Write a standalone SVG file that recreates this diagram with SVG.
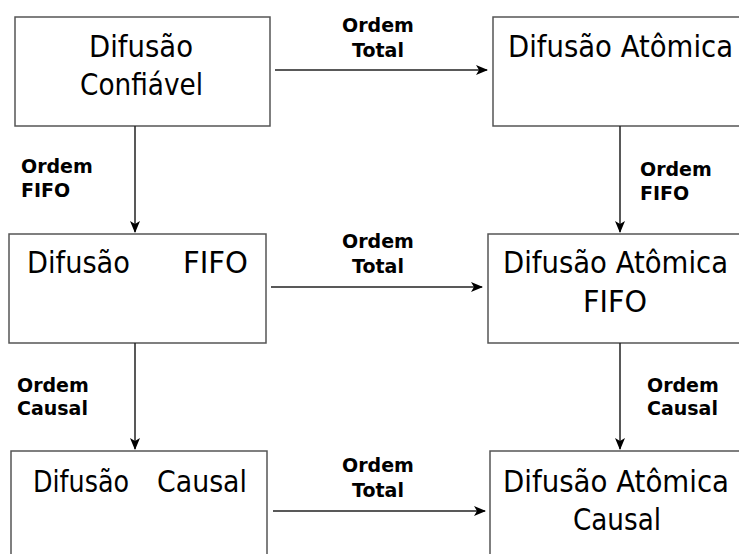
<svg xmlns="http://www.w3.org/2000/svg" width="739" height="554" viewBox="0 0 739 554">
<style>
.box{fill:#fff;stroke:#555;stroke-width:1.5}
.t{font-family:"DejaVu Sans","Verdana",sans-serif;font-size:30px;fill:#000}
.l{font-family:"DejaVu Sans","Verdana",sans-serif;font-size:19px;font-weight:bold;fill:#000}
.c{text-anchor:middle}
.e{stroke:#222;stroke-width:1.5;fill:none;marker-end:url(#ah)}
</style>
<defs>
<marker id="ah" viewBox="0 0 12 10" refX="11" refY="5" markerWidth="12" markerHeight="10" markerUnits="userSpaceOnUse" orient="auto">
<path d="M0,0 L12,5 L0,10 L3,5 Z" fill="#000"/>
</marker>
</defs>
<rect width="739" height="554" fill="#fff"/>
<g id="n1">
<rect class="box" x="15" y="17" width="255" height="109"/>
<text class="t" x="89" y="57" textLength="104" lengthAdjust="spacingAndGlyphs">Difusão</text>
<text class="t" x="80" y="95" textLength="123" lengthAdjust="spacingAndGlyphs">Confiável</text>
</g>
<g id="n2">
<rect class="box" x="493" y="17" width="260" height="109"/>
<text class="t" x="508" y="57" textLength="225" lengthAdjust="spacingAndGlyphs">Difusão Atômica</text>
</g>
<g id="n3">
<rect class="box" x="9" y="234" width="257" height="109"/>
<text class="t" x="27" y="273" textLength="103" lengthAdjust="spacingAndGlyphs">Difusão</text>
<text class="t" x="183" y="273" textLength="65" lengthAdjust="spacingAndGlyphs">FIFO</text>
</g>
<g id="n4">
<rect class="box" x="488" y="234" width="265" height="109"/>
<text class="t" x="503" y="273" textLength="225" lengthAdjust="spacingAndGlyphs">Difusão Atômica</text>
<text class="t" x="583" y="312" textLength="64" lengthAdjust="spacingAndGlyphs">FIFO</text>
</g>
<g id="n5">
<rect class="box" x="11" y="451" width="256" height="120"/>
<text class="t" x="33" y="492" textLength="96" lengthAdjust="spacingAndGlyphs">Difusão</text>
<text class="t" x="157" y="492" textLength="90" lengthAdjust="spacingAndGlyphs">Causal</text>
</g>
<g id="n6">
<rect class="box" x="490" y="451" width="263" height="120"/>
<text class="t" x="503" y="492" textLength="226" lengthAdjust="spacingAndGlyphs">Difusão Atômica</text>
<text class="t" x="573" y="530" textLength="88" lengthAdjust="spacingAndGlyphs">Causal</text>
</g>
<g id="connectors">
<line class="e" x1="275" y1="70" x2="487" y2="70"/>
<line class="e" x1="135" y1="126" x2="135" y2="232"/>
<line class="e" x1="620" y1="126" x2="620" y2="232"/>
<line class="e" x1="271" y1="287" x2="482" y2="287"/>
<line class="e" x1="135" y1="343" x2="135" y2="449"/>
<line class="e" x1="620" y1="343" x2="620" y2="449"/>
<line class="e" x1="273" y1="511" x2="485" y2="511"/>
</g>
<g id="labels">
<text class="l c" x="378" y="32">Ordem</text>
<text class="l c" x="378" y="57">Total</text>
<text class="l" x="21" y="173">Ordem</text>
<text class="l" x="21" y="197">FIFO</text>
<text class="l" x="640" y="176">Ordem</text>
<text class="l" x="640" y="200">FIFO</text>
<text class="l c" x="378" y="248">Ordem</text>
<text class="l c" x="378" y="273">Total</text>
<text class="l" x="17" y="392">Ordem</text>
<text class="l" x="17" y="415">Causal</text>
<text class="l" x="647" y="392">Ordem</text>
<text class="l" x="647" y="415">Causal</text>
<text class="l c" x="378" y="472">Ordem</text>
<text class="l c" x="378" y="497">Total</text>
</g>
</svg>
